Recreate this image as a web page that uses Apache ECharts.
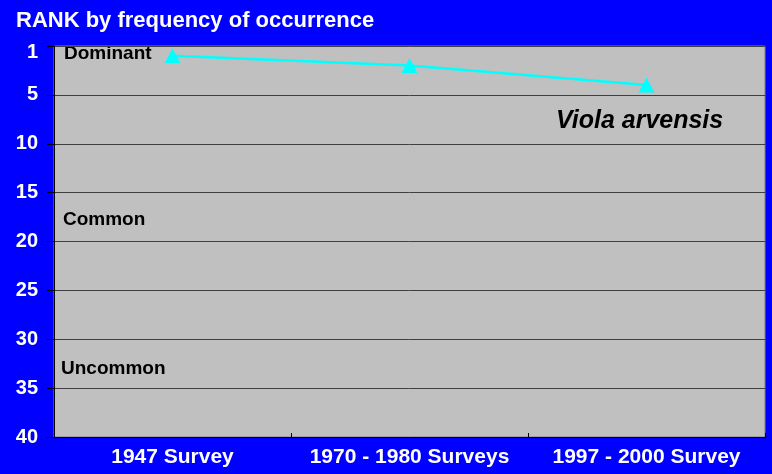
<!DOCTYPE html>
<html><head><meta charset="utf-8">
<script src="https://cdn.jsdelivr.net/npm/echarts@6/dist/echarts.min.js"></script>
<style>html,body{margin:0;padding:0;background:#0000FF;}#c{width:772px;height:474px;}</style>
</head><body><div id="c"></div>
<script>
const categories = ['1947 Survey', '1970 - 1980 Surveys', '1997 - 2000 Survey'];
const rankValues = [1, 2, 4];
const seriesName = 'Viola arvensis';
const bandLabels = ['Dominant', 'Common', 'Uncommon'];
const titleText = 'RANK by frequency of occurrence';

const FONT = "'Liberation Sans', Arial, sans-serif";
const chart = echarts.init(document.getElementById('c'), null, {renderer: 'canvas'});
chart.setOption({
  backgroundColor: '#0000FF',
  animation: false,
  title: {
    text: titleText, left: 11, top: 5,
    textStyle: {color: '#FFFFFF', fontFamily: FONT, fontWeight: 'bold', fontSize: 22}
  },
  grid: {left: 54, right: 7, top: 46, bottom: 37, show: true, backgroundColor: '#C0C0C0', borderColor: '#808080', borderWidth: 1},
  xAxis: {
    type: 'category', data: categories, boundaryGap: true,
    axisLine: {show: true, onZero: false, lineStyle: {color: '#000000', width: 1}},
    axisTick: {show: true, inside: true, length: 4, interval: 0, lineStyle: {color: '#000000'}},
    axisLabel: {color: '#FFFFFF', fontFamily: FONT, fontWeight: 'bold', fontSize: 21, margin: 10, interval: 0},
    splitLine: {show: false}
  },
  yAxis: {
    type: 'value', inverse: true, min: 0, max: 40, interval: 5,
    axisLine: {show: true, lineStyle: {color: '#000000', width: 1}},
    axisTick: {show: true, length: 7, lineStyle: {color: '#000000'}},
    axisLabel: {color: '#FFFFFF', fontFamily: FONT, fontWeight: 'bold', fontSize: 20, margin: 16,
      formatter: v => v === 0 ? '{top|1}' : String(v),
      rich: {top: {color: '#FFFFFF', fontFamily: FONT, fontWeight: 'bold', fontSize: 20, padding: [12, 0, 0, 0]}}},
    splitLine: {show: true, lineStyle: {color: '#404040', width: 1}}
  },
  series: [{
    name: seriesName, type: 'line', data: rankValues,
    symbol: 'triangle', symbolSize: [16, 15],
    lineStyle: {color: '#00FFFF', width: 2.5},
    itemStyle: {color: '#00FFFF'}
  }],
  graphic: [
    {type: 'text', left: 64, top: 44, style: {text: bandLabels[0], fill: '#000', font: 'bold 19px ' + FONT}},
    {type: 'text', left: 63, top: 210, style: {text: bandLabels[1], fill: '#000', font: 'bold 19px ' + FONT}},
    {type: 'text', left: 61, top: 359, style: {text: bandLabels[2], fill: '#000', font: 'bold 19px ' + FONT}},
    {type: 'text', left: 556, top: 109, style: {text: seriesName, fill: '#000', font: 'italic bold 25px ' + FONT}}
  ]
});
</script></body></html>
